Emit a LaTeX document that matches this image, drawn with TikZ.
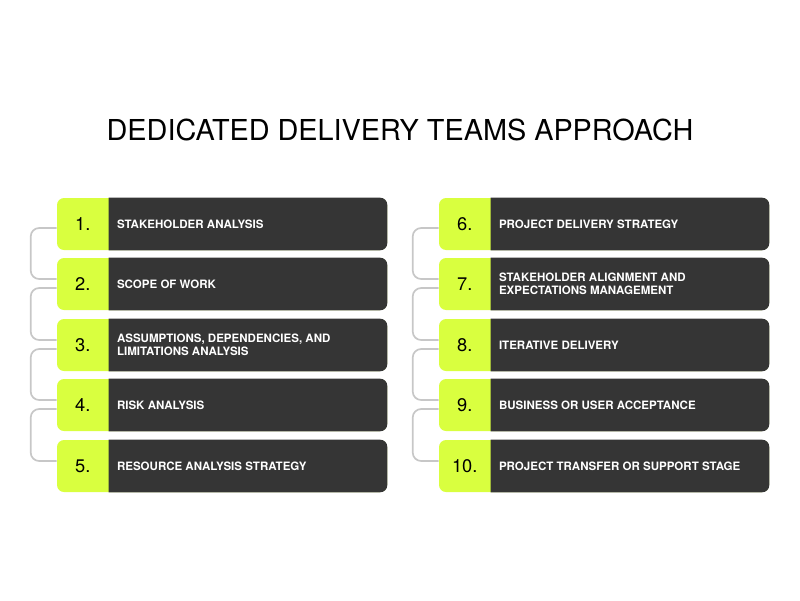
\documentclass[tikz,border=0pt]{standalone}
\usepackage{fontspec}
\setmainfont{TeX Gyre Heros}
\usetikzlibrary{positioning}
\definecolor{lime}{HTML}{D9FF3F}
\definecolor{dark}{HTML}{353535}
\begin{document}
\begin{tikzpicture}[
        x=0.025cm, y=-0.025cm,
        card/.style={draw=none, fill=lime, rounded corners=5pt, minimum width=330*0.025cm, minimum height=52*0.025cm, inner sep=0pt},
        num/.style={font=\fontsize{13}{13}\selectfont, text=black},
        lab/.style={font=\bfseries\fontsize{8.2}{9.6}\selectfont, text=white, align=left, anchor=west, inner sep=0pt},
        link/.style={draw=black!22, line width=1.2pt, rounded corners=6pt}
        ]
        \useasboundingbox (0,0) rectangle (800,600);
        \node[font=\fontsize{20.5}{22}\selectfont] (title) at (400,130) {DEDICATED DELIVERY TEAMS APPROACH};

        % cards
        \foreach \i/\x/\y/\t in {1/222/224/STAKEHOLDER ANALYSIS, 2/222/284/SCOPE OF WORK,
            3/222/345/{ASSUMPTIONS, DEPENDENCIES, AND\\LIMITATIONS ANALYSIS}, 4/222/405/RISK ANALYSIS,
            5/222/466/RESOURCE ANALYSIS STRATEGY, 6/604/224/PROJECT DELIVERY STRATEGY,
            7/604/284/{STAKEHOLDER ALIGNMENT AND\\EXPECTATIONS MANAGEMENT}, 8/604/345/ITERATIVE DELIVERY,
            9/604/405/BUSINESS OR USER ACCEPTANCE, 10/604/466/PROJECT TRANSFER OR SUPPORT STAGE} {
            \node[card] (card\i) at (\x,\y) {};
            \fill[dark] ([xshift=52*0.025cm]card\i.north west) [rounded corners=5pt] -- (card\i.north east)
                -- (card\i.south east) [sharp corners] -- ([xshift=52*0.025cm]card\i.south west) -- cycle;
            \node[num] (num\i) at ([xshift=26*0.025cm]card\i.west) {\i.};
            \node[lab] (lab\i) at ([xshift=60*0.025cm]card\i.west) {\t};
        }

        % brackets
        \foreach \a/\b in {1/2, 2/3, 3/4, 4/5, 6/7, 7/8, 8/9, 9/10} {
            \draw[link] ([yshift=-4*0.025cm]card\a.west) -- ++(-26,0) |- ([yshift=5*0.025cm]card\b.west);
        }
\end{tikzpicture}
\end{document}
